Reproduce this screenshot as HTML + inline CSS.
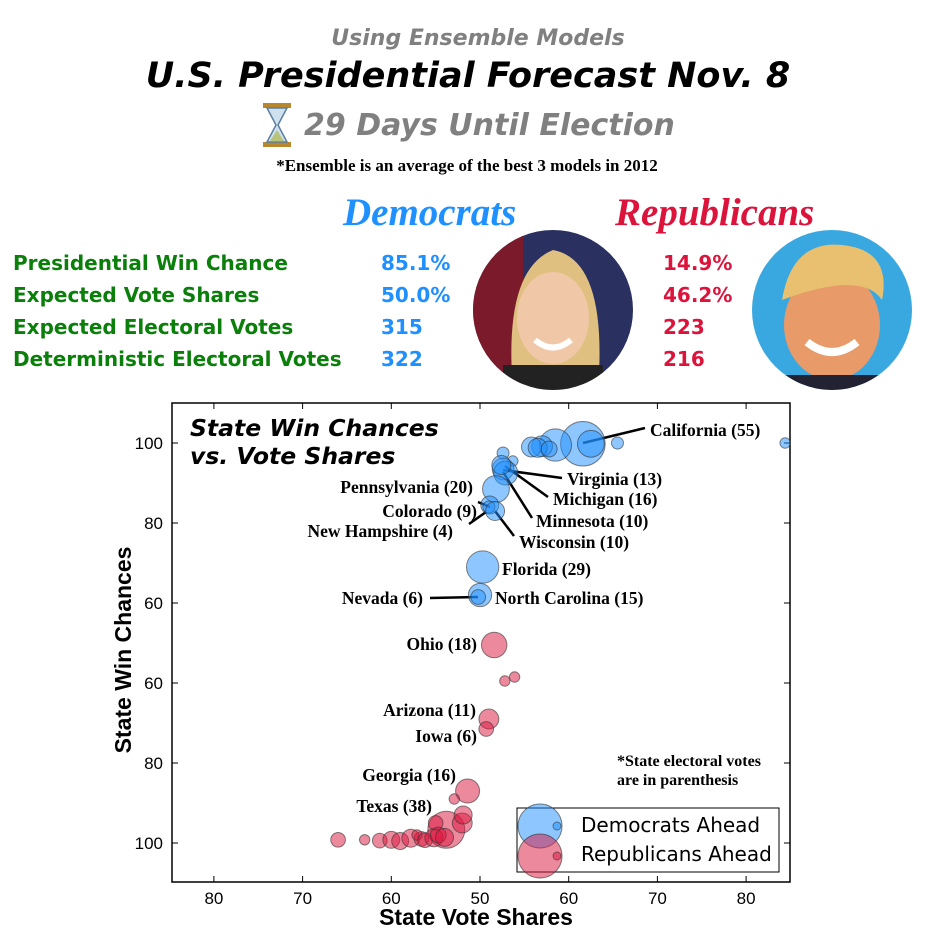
<!DOCTYPE html>
<html><head><meta charset="utf-8"><style>
body{margin:0;background:#fff;width:940px;height:940px;overflow:hidden;position:relative;font-family:"DejaVu Sans","Liberation Sans",sans-serif}
.t{position:absolute;white-space:nowrap}
.row{position:absolute;left:13px;font-weight:bold;font-size:20px;color:#0a7f0a}
.dv{position:absolute;left:381px;font-weight:bold;font-size:20px;color:#1e90ff}
.rv{position:absolute;left:663px;font-weight:bold;font-size:20px;color:#dc143c}
</style></head><body>
<div class="t" style="left:0;width:956px;text-align:center;top:26px;font-size:22px;font-weight:bold;font-style:italic;color:#808080">Using Ensemble Models</div>
<div class="t" style="left:0;width:936px;text-align:center;top:56px;font-size:35px;font-weight:bold;font-style:italic;color:#000">U.S. Presidential Forecast Nov. 8</div>
<svg class="t" style="left:262px;top:102px" width="30" height="48">
<rect x="1" y="1" width="28" height="5" fill="#b8862b"/><rect x="1" y="40" width="28" height="5" fill="#b8862b"/>
<path d="M5 6 L25 6 L16 23 L25 40 L5 40 L14 23 Z" fill="#cfe0ef" stroke="#5a7fa0" stroke-width="1.5"/>
<path d="M8 39 L15 28 L22 39 Z" fill="#b8c47a"/></svg>
<div class="t" style="left:304px;top:108px;font-size:30px;font-weight:bold;font-style:italic;color:#808080">29 Days Until Election</div>
<div class="t" style="left:0;width:934px;text-align:center;top:156px;font-size:17px;font-weight:bold;font-family:'Liberation Serif',serif">*Ensemble is an average of the best 3 models in 2012</div>
<div class="t" style="left:343px;top:190px;font-size:39px;font-weight:bold;font-style:italic;color:#1e90ff;font-family:'Liberation Serif',serif">Democrats</div>
<div class="t" style="left:615px;top:190px;font-size:39px;font-weight:bold;font-style:italic;color:#dc143c;font-family:'Liberation Serif',serif">Republicans</div>
<div class="row" style="top:251px">Presidential Win Chance</div>
<div class="row" style="top:283px">Expected Vote Shares</div>
<div class="row" style="top:315px">Expected Electoral Votes</div>
<div class="row" style="top:347px">Deterministic Electoral Votes</div>
<div class="dv" style="top:251px">85.1%</div>
<div class="dv" style="top:283px">50.0%</div>
<div class="dv" style="top:315px">315</div>
<div class="dv" style="top:347px">322</div>
<div class="rv" style="top:251px">14.9%</div>
<div class="rv" style="top:283px">46.2%</div>
<div class="rv" style="top:315px">223</div>
<div class="rv" style="top:347px">216</div>
<svg class="t" style="left:473px;top:230px" width="160" height="160">
<defs><clipPath id="c1"><circle cx="80" cy="80" r="80"/></clipPath></defs>
<g clip-path="url(#c1)"><rect width="160" height="160" fill="#2a3060"/><rect x="0" y="0" width="50" height="160" fill="#7a1a2a"/>
<path d="M40 160 Q30 40 80 20 Q135 30 125 160 Z" fill="#e0c080"/><ellipse cx="80" cy="88" rx="36" ry="46" fill="#f0c8a8"/>
<path d="M62 110 Q80 125 98 110" stroke="#fff" stroke-width="6" fill="none"/><rect x="30" y="135" width="100" height="30" fill="#222"/></g></svg>
<svg class="t" style="left:752px;top:230px" width="160" height="160">
<defs><clipPath id="c2"><circle cx="80" cy="80" r="80"/></clipPath></defs>
<g clip-path="url(#c2)"><rect width="160" height="160" fill="#3aa8e0"/>
<ellipse cx="80" cy="95" rx="48" ry="55" fill="#e89a68"/><path d="M30 70 Q40 10 90 15 Q140 20 130 70 Q110 40 30 70Z" fill="#e8c070"/>
<path d="M55 112 Q80 132 105 112" stroke="#fff" stroke-width="8" fill="none"/><rect x="20" y="145" width="120" height="20" fill="#223"/></g></svg>

<svg class="t" id="chart" style="left:0;top:0" width="940" height="940"></svg>
<script>
const demShare=[61.6,58.5,62.5,57.0,55.8,56.5,57.8,65.5,84.4,52.6,53.7,52.6,52.9,52.4,51.8,51.1,51.0,51.7,50.3,50.0,49.8];
const demChance=[99.8,99.5,99.8,99.2,99.0,98.8,98.5,100,100,97.5,95.5,93.5,92.5,94.5,88.5,84.5,84.0,83.0,69.0,62.0,61.5];
const demEV=[55,29,20,12,11,10,7,4,3,4,3,13,16,10,20,9,4,10,29,15,6];
const repShare=[51.6,52.8,53.9,51.0,50.7,48.6,47.1,46.2,48.0,48.1,45.0,34.0,37.0,38.7,40.0,41.0,42.2,43.4,42.9,43.8,44.8,45.3,46.0];
const repChance=[49.5,40.5,41.5,31.0,28.5,13.0,11.0,3.3,5.0,7.0,5.0,0.8,0.8,0.6,0.8,0.5,1.2,1.0,2.0,0.7,1.3,2.0,1.4];
const repEV=[18,3,3,11,6,16,3,38,11,9,6,6,3,6,8,8,9,6,3,6,9,7,9];
const xTicks=[20,30,40,50,60,70,80];
const xTickLabels=["80","70","60","50","60","70","80"];
const yTicks=[100,80,60,40,20,0];
const yTickLabels=["100","80","60","60","80","100"];
const X0=172,X1=790,Y0=403,Y1=882;
const xs=v=>480+(v-50)*8.87;
const ys=p=>643-(p-50)*4;
const rs=e=>Math.sqrt(e)*3;
const svg=document.getElementById('chart');
const NS='http://www.w3.org/2000/svg';
function mk(tag,attrs,txt){const e=document.createElementNS(NS,tag);for(const k in attrs)e.setAttribute(k,attrs[k]);if(txt!=null)e.textContent=txt;svg.appendChild(e);return e;}
let e=mk('rect',{x:X0,y:Y0,width:X1-X0,height:Y1-Y0,fill:'none',stroke:'#000','stroke-width':1.5});


xTicks.forEach((t,i)=>{
 const x=xs(t);
 let l=mk('line',{x1:x,x2:x,y1:Y1,y2:Y1-6,stroke:'#000'});
 
 
 mk('line',{x1:x,x2:x,y1:Y0,y2:Y0+6,stroke:'#000'});
 let tx=mk('text',{x:x,y:Y1+22,'text-anchor':'middle','font-size':17,'font-family':'Liberation Sans'},xTickLabels[i]);
 
 
});
yTicks.forEach((t,i)=>{
 const y=ys(t);
 let l=mk('line',{x1:X0,x2:X0+6,y1:y,y2:y,stroke:'#000'});
 
 
 mk('line',{x1:X1,x2:X1-6,y1:y,y2:y,stroke:'#000'});
 let tx=mk('text',{x:X0-9,y:y+6,'text-anchor':'end','font-size':17,'font-family':'Liberation Sans'},yTickLabels[i]);
 
 
});
[[583,443,645,428],[503,470,562,478],[505,466,548,497],[503,472,532,518],[495,511,514,536],[490,507,478,502],[486,512,469,524],[478,597,430,598]].forEach(a=>{
 let l=mk('line',{x1:a[0],y1:a[1],x2:a[2],y2:a[3],stroke:'#000','stroke-width':2.5});
 
 
});
function dot(x,y,r,col,name){const c=document.createElementNS(NS,'circle');
 c.setAttribute('cx',x);c.setAttribute('cy',y);c.setAttribute('r',r);c.setAttribute('fill',col);c.setAttribute('fill-opacity',0.5);c.setAttribute('stroke','#333');c.setAttribute('stroke-opacity',0.6);
 
 
 svg.appendChild(c);}
demShare.forEach((v,i)=>dot(xs(v),ys(demChance[i]),rs(demEV[i]),'#1e90ff','dem-state-bubble'));
repShare.forEach((v,i)=>dot(xs(v),ys(repChance[i]),rs(repEV[i]),'#dc143c','rep-state-bubble'));
const labels=[["California (55)",650,436,'start'],["Virginia (13)",567,485,'start'],["Michigan (16)",553,505,'start'],["Minnesota (10)",536,527,'start'],["Wisconsin (10)",519,548,'start'],["Pennsylvania (20)",473,493,'end'],["Colorado (9)",477,517,'end'],["New Hampshire (4)",453,537,'end'],["Florida (29)",502,575,'start'],["Nevada (6)",423,604,'end'],["North Carolina (15)",495,604,'start'],["Ohio (18)",477,650,'end'],["Arizona (11)",476,716,'end'],["Iowa (6)",477,742,'end'],["Georgia (16)",456,781,'end'],["Texas (38)",432,812,'end']];
labels.forEach(l=>{let t=mk('text',{x:l[1],y:l[2],'text-anchor':l[3],'font-size':17.5,'font-weight':'bold','font-family':'Liberation Serif'},l[0]);
 
 });
let t1=mk('text',{x:190,y:436,'font-size':23.5,'font-weight':'bold','font-style':'italic','font-family':'DejaVu Sans'},'State Win Chances');


mk('text',{x:190,y:464,'font-size':23.5,'font-weight':'bold','font-style':'italic','font-family':'DejaVu Sans'},'vs. Vote Shares');
let n1=mk('text',{x:617,y:766,'font-size':16,'font-weight':'bold','font-family':'Liberation Serif'},'*State electoral votes');


mk('text',{x:617,y:785,'font-size':16,'font-weight':'bold','font-family':'Liberation Serif'},'are in parenthesis');
let xl=mk('text',{x:476,y:925,'text-anchor':'middle','font-size':23,'font-weight':'bold','font-family':'Liberation Sans'},'State Vote Shares');


let yl=mk('text',{x:0,y:0,'text-anchor':'middle','font-size':23,'font-weight':'bold','font-family':'Liberation Sans',transform:'translate(131,650) rotate(-90)'},'State Win Chances');


let lb=mk('rect',{x:517,y:808,width:262,height:64,fill:'#fff',stroke:'#000'});


dot(540,826,22,'#1e90ff','legend-dem-marker');dot(557,826,4,'#1e90ff','legend-dem-marker-small');
dot(540,856,22,'#dc143c','legend-rep-marker');dot(557,856,4,'#dc143c','legend-rep-marker-small');
let le1=mk('text',{x:581,y:832,'font-size':20,'font-family':'DejaVu Sans'},'Democrats Ahead');


let le2=mk('text',{x:581,y:861,'font-size':20,'font-family':'DejaVu Sans'},'Republicans Ahead');


</script>
</body></html>
